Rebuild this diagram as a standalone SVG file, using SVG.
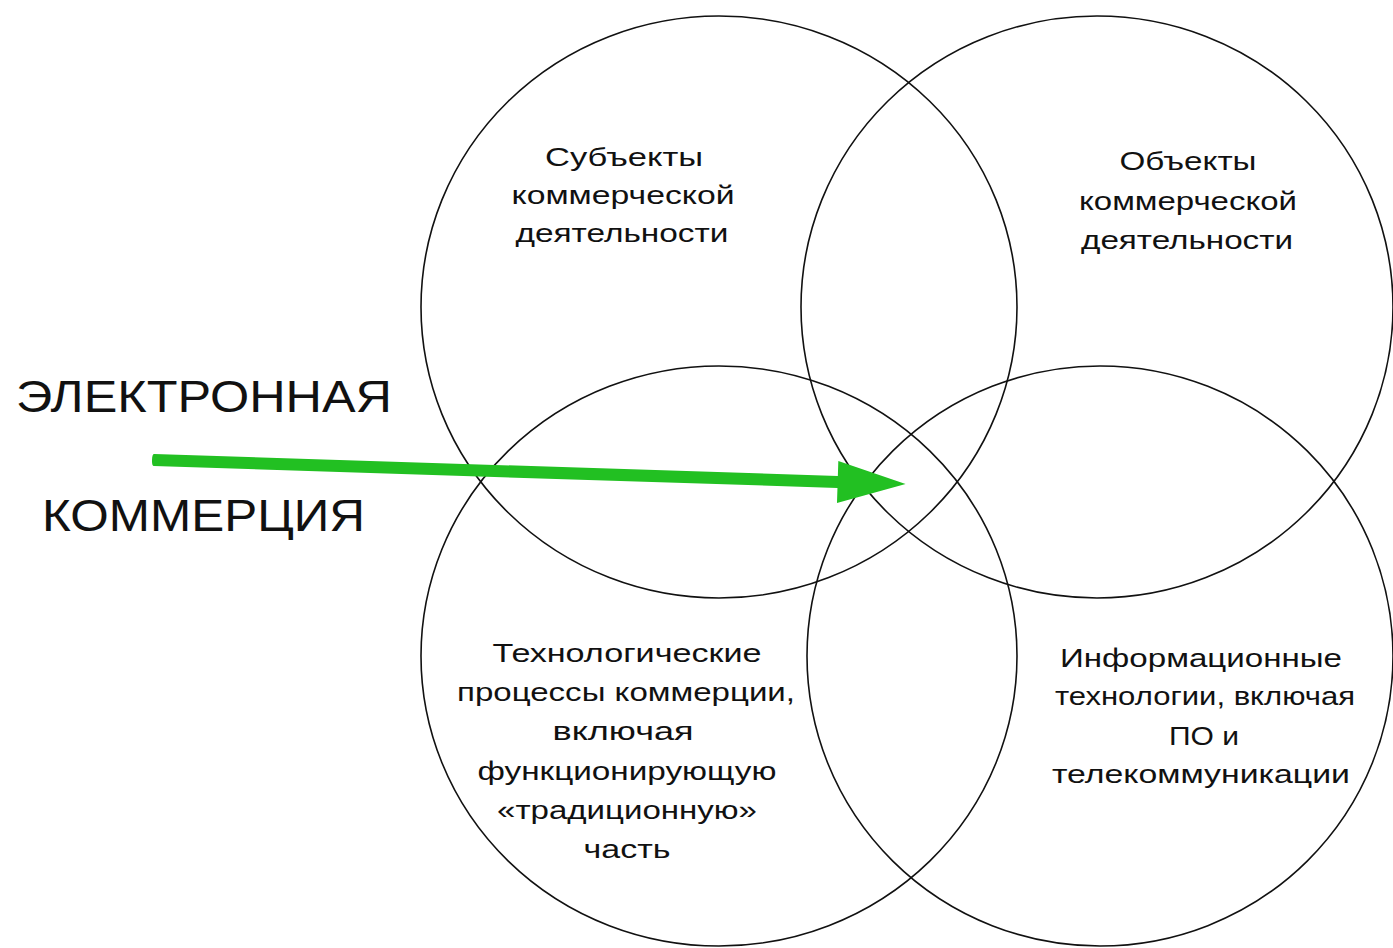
<svg xmlns="http://www.w3.org/2000/svg" width="1393" height="948" viewBox="0 0 1393 948">
<style>
.c{fill:none;stroke:#111;stroke-width:1.6}
.t{font-family:"Liberation Sans",Arial,sans-serif;font-size:26px;fill:#111;text-anchor:middle}
.big{font-family:"Liberation Sans",Arial,sans-serif;font-size:44px;fill:#111}
.arrow{fill:#22c022}
</style>
<rect width="1393" height="948" fill="#fff"/>
<g id="title">
<text class="big" x="16" y="412" textLength="376" lengthAdjust="spacingAndGlyphs">ЭЛЕКТРОННАЯ</text>
<text class="big" x="42" y="531" textLength="323" lengthAdjust="spacingAndGlyphs">КОММЕРЦИЯ</text>
</g>
<g id="subjects">
<ellipse class="c" cx="719" cy="307" rx="298" ry="291"/>
<text class="t" x="624" y="166" textLength="158" lengthAdjust="spacingAndGlyphs">Субъекты</text>
<text class="t" x="623" y="204" textLength="223" lengthAdjust="spacingAndGlyphs">коммерческой</text>
<text class="t" x="622" y="242" textLength="213" lengthAdjust="spacingAndGlyphs">деятельности</text>
</g>
<g id="objects">
<ellipse class="c" cx="1097" cy="307" rx="296" ry="291"/>
<text class="t" x="1188" y="170" textLength="137" lengthAdjust="spacingAndGlyphs">Объекты</text>
<text class="t" x="1188" y="210" textLength="218" lengthAdjust="spacingAndGlyphs">коммерческой</text>
<text class="t" x="1187" y="249" textLength="212" lengthAdjust="spacingAndGlyphs">деятельности</text>
</g>
<g id="processes">
<ellipse class="c" cx="719" cy="656" rx="298" ry="290"/>
<text class="t" x="627" y="662" textLength="269" lengthAdjust="spacingAndGlyphs">Технологические</text>
<text class="t" x="626" y="701" textLength="338" lengthAdjust="spacingAndGlyphs">процессы коммерции,</text>
<text class="t" x="623" y="740" textLength="141" lengthAdjust="spacingAndGlyphs">включая</text>
<text class="t" x="627" y="780" textLength="299" lengthAdjust="spacingAndGlyphs">функционирующую</text>
<text class="t" x="627" y="819" textLength="260" lengthAdjust="spacingAndGlyphs">«традиционную»</text>
<text class="t" x="627" y="858" textLength="87" lengthAdjust="spacingAndGlyphs">часть</text>
</g>
<g id="it">
<ellipse class="c" cx="1100" cy="656" rx="293" ry="290"/>
<text class="t" x="1201" y="667" textLength="282" lengthAdjust="spacingAndGlyphs">Информационные</text>
<text class="t" x="1205" y="705" textLength="300" lengthAdjust="spacingAndGlyphs">технологии, включая</text>
<text class="t" x="1204" y="745" textLength="70" lengthAdjust="spacingAndGlyphs">ПО и</text>
<text class="t" x="1201" y="783" textLength="298" lengthAdjust="spacingAndGlyphs">телекоммуникации</text>
</g>
<g id="connectors">
<path class="arrow" transform="translate(152,460) rotate(1.83)" d="M2,-6 L686,-6 L686,-21 L754,0 L686,21 L686,6 L2,6 Q0,6 0,0 Q0,-6 2,-6 Z"/>
</g>
</svg>
